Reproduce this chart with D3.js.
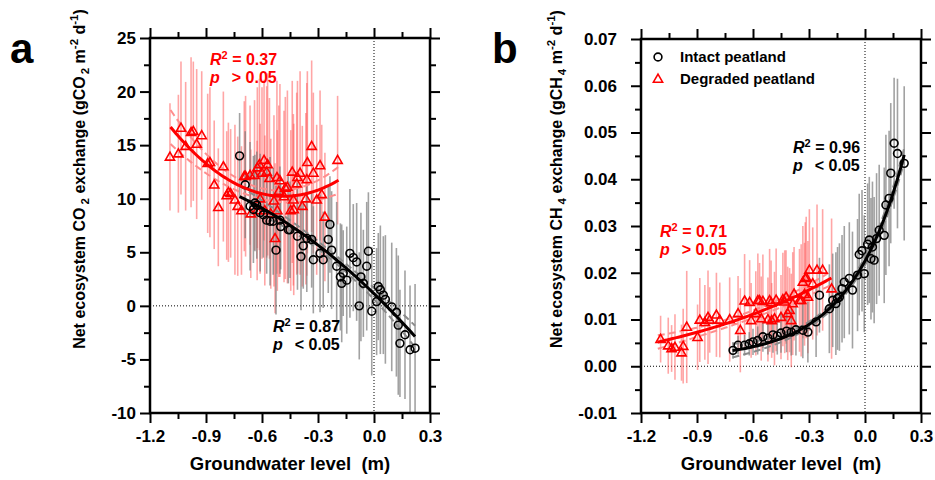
<!DOCTYPE html>
<html>
<head>
<meta charset="utf-8">
<script src="https://cdn.jsdelivr.net/npm/d3@7"></script>
<style>
  body { margin: 0; background: #fff; }
  text { font-family: Arial, "Liberation Sans", sans-serif; font-weight: bold; fill: #000; }
</style>
</head>
<body>
<svg id="chart" width="935" height="480"></svg>
<script>
// ---- data ----
// panel a: net ecosystem CO2 exchange vs groundwater level
const aIntactGWL = [-0.72,-0.69,-0.664,-0.646,-0.638,-0.628,-0.61,-0.593,-0.575,-0.557,-0.54,-0.525,-0.504,-0.5,-0.459,-0.45,-0.41,-0.391,-0.379,-0.36,-0.334,-0.325,-0.289,-0.272,-0.245,-0.236,-0.227,-0.2,-0.18,-0.173,-0.165,-0.146,-0.129,-0.111,-0.093,-0.079,-0.07,-0.057,-0.039,-0.03,-0.012,0.014,0.023,0.034,0.05,0.061,0.095,0.12,0.13,0.139,0.166,0.193,0.22];
const aIntactNEE = [14.0,11.3,9.3,9.0,9.6,9.4,8.7,8.5,8.0,7.9,7.9,5.2,8.0,7.4,7.1,7.1,6.5,4.6,5.6,6.3,6.2,4.3,4.9,4.3,6.2,7.6,5.2,3.7,2.7,2.1,3.05,2.4,4.9,4.5,4.1,0.0,2.7,2.1,3.7,5.1,-0.5,0.4,1.8,1.5,1.0,0.6,-0.1,-0.6,-1.8,-3.5,-2.7,-4.1,-3.95];
const aIntactSD = [4,5,6,5,4.5,5,5.5,4,5,6,5,6,5,4,5,4.5,5,5,4,5,4.5,5,5.5,4.5,5,4.5,5.5,6,5,5.5,4,5,6,5,5.5,5,6,5,6,5.5,6,5,5,6,5.5,6,6,6,6.5,5,6,6,6];

const aDegradedGWL = [-1.093,-1.048,-1.034,-1.009,-0.98,-0.968,-0.95,-0.923,-0.891,-0.879,-0.856,-0.834,-0.807,-0.789,-0.78,-0.768,-0.745,-0.73,-0.71,-0.695,-0.688,-0.664,-0.66,-0.64,-0.626,-0.625,-0.614,-0.61,-0.6,-0.589,-0.585,-0.575,-0.57,-0.56,-0.553,-0.536,-0.53,-0.52,-0.518,-0.51,-0.504,-0.482,-0.475,-0.464,-0.446,-0.438,-0.432,-0.43,-0.414,-0.41,-0.396,-0.384,-0.365,-0.36,-0.357,-0.334,-0.325,-0.307,-0.289,-0.28,-0.263,-0.195];
const aDegradedNEE = [13.9,14.2,16.6,14.9,16.2,16.3,15.1,15.9,13.3,13.4,11.3,9.2,13.0,10.3,10.6,10.5,9.9,9.3,8.9,12.1,12.1,12.2,8.6,12.2,8.9,12.9,13.2,10.0,12.4,13.6,8.9,12.5,13.2,11.9,8.6,9.8,6.3,12.0,8.9,10.7,11.7,10.2,11.0,11.1,8.9,12.5,9.9,9.0,11.4,12.0,12.4,9.3,10.0,11.8,13.4,14.9,12.4,9.9,13.1,10.4,8.3,13.6];
const aDegradedSD = [5,5.5,6.2,6,7,6.5,7,6,6.5,7,6,5.5,7,6,6.5,6,7,6.5,6,7,7.5,6.5,6,7,6.5,7.5,8,7,8,7.5,7,8,8.5,7.5,7,8,7,9,7.5,8,9,8,8.5,9,7.5,8.5,8,8,8.5,9,9.5,7.5,8,9,8.5,8,7.5,7,7,6.5,6,6];

// panel b: net ecosystem CH4 exchange vs groundwater level
const bIntactGWL = [-0.707,-0.68,-0.645,-0.62,-0.6,-0.575,-0.547,-0.52,-0.493,-0.47,-0.45,-0.42,-0.395,-0.37,-0.333,-0.306,-0.262,-0.244,-0.191,-0.173,-0.156,-0.147,-0.137,-0.123,-0.111,-0.084,-0.067,-0.04,-0.031,-0.016,-0.004,0.014,0.023,0.032,0.04,0.049,0.062,0.076,0.103,0.112,0.129,0.138,0.156,0.174,0.21];
const bIntactCH4 = [0.0034,0.0045,0.0045,0.0048,0.0052,0.0055,0.0063,0.006,0.0067,0.0065,0.0071,0.0075,0.0073,0.0078,0.0077,0.0073,0.0095,0.0152,0.0123,0.0141,0.0134,0.0145,0.0148,0.0166,0.018,0.0188,0.0163,0.0195,0.0239,0.0247,0.0198,0.0261,0.027,0.023,0.0255,0.0227,0.0273,0.0291,0.028,0.0345,0.0359,0.0413,0.0477,0.0455,0.0434];
const bIntactSD = [0.0018,0.002,0.0022,0.0025,0.0028,0.003,0.0032,0.0035,0.0038,0.004,0.0042,0.0045,0.005,0.0055,0.006,0.0065,0.0075,0.008,0.0095,0.01,0.011,0.011,0.0115,0.0115,0.012,0.012,0.0125,0.012,0.013,0.013,0.0125,0.013,0.0135,0.013,0.014,0.0135,0.014,0.014,0.0145,0.015,0.0145,0.015,0.014,0.016,0.0165];

const bDegradedGWL = [-1.095,-1.054,-1.036,-1.018,-0.983,-0.974,-0.955,-0.897,-0.885,-0.858,-0.841,-0.832,-0.796,-0.778,-0.725,-0.68,-0.668,-0.645,-0.618,-0.61,-0.585,-0.574,-0.565,-0.556,-0.547,-0.52,-0.511,-0.503,-0.5,-0.485,-0.476,-0.45,-0.44,-0.43,-0.423,-0.414,-0.404,-0.395,-0.387,-0.38,-0.351,-0.342,-0.333,-0.324,-0.32,-0.315,-0.306,-0.298,-0.28,-0.257,-0.227,-0.179];
const bDegradedCH4 = [0.0058,0.0044,0.0038,0.0041,0.0029,0.0043,0.0084,0.0062,0.0099,0.0094,0.0105,0.0099,0.011,0.0099,0.01,0.0113,0.0077,0.014,0.0137,0.0098,0.0113,0.0141,0.0141,0.0102,0.0139,0.01,0.0141,0.0136,0.0098,0.0102,0.0142,0.0105,0.0143,0.0138,0.0148,0.0113,0.012,0.0098,0.0134,0.0155,0.0141,0.0141,0.018,0.0154,0.0188,0.019,0.0148,0.0206,0.0177,0.0206,0.0206,0.0166];
const bDegradedSD = [0.005,0.006,0.005,0.007,0.006,0.008,0.012,0.007,0.009,0.008,0.01,0.007,0.009,0.008,0.009,0.008,0.009,0.01,0.009,0.008,0.009,0.01,0.008,0.009,0.01,0.009,0.011,0.009,0.008,0.01,0.011,0.009,0.01,0.011,0.01,0.01,0.009,0.01,0.011,0.01,0.011,0.012,0.012,0.011,0.012,0.013,0.012,0.013,0.012,0.014,0.013,0.015];

// fitted curves: quadratic c0 + c1*x + c2*x^2 (panel a), c0 + c1*exp(c2*x) (panel b)
const aIntactFit = [1.14, -16.88, -5.97];
const aDegradedFit = [14.31, 16.93, 17.54];
const bIntactFit = [0.0016, 0.02092, 3.5];
const bDegradedFit = [-0.00375, 0.0271, 1.0];
// fit x ranges
const aIntactRange = [-0.72, 0.22];
const aDegradedRange = [-1.09, -0.19];
const bIntactRange = [-0.71, 0.21];
const bDegradedRange = [-1.11, -0.175];
// confidence band half widths: h0 + h1*(x - xm)^2  -> [h0, h1, xm]
const aIntactBand = [0.35, 3.0, -0.25];
const aDegradedBand = [0.5, 4.5, -0.6];
const bIntactBand = [0.0006, 0.004, -0.25];
const bDegradedBand = [0.0008, 0.003, -0.65];

// axis ticks
const xTicks = [-1.2, -0.9, -0.6, -0.3, 0.0, 0.3];
const xMinorTicks = [-1.05, -0.75, -0.45, -0.15, 0.15];
const aYTicks = [-10, -5, 0, 5, 10, 15, 20, 25];
const aYMinorTicks = [-7.5, -2.5, 2.5, 7.5, 12.5, 17.5, 22.5];
const bYTicks = [-0.01, 0, 0.01, 0.02, 0.03, 0.04, 0.05, 0.06, 0.07];
const bYMinorTicks = [-0.005, 0.005, 0.015, 0.025, 0.035, 0.045, 0.055, 0.065];

const RED = "#ff0000";
const svg = d3.select("#chart");
svg.append("rect").attr("width", 935).attr("height", 480).attr("fill", "#fff");

const quad = c => x => c[0] + c[1] * x + c[2] * x * x;
const expo = c => x => c[0] + c[1] * Math.exp(c[2] * x);
const triPath = "M0,-4.8L4.6,3.2L-4.6,3.2Z";

function drawPanel(p) {
    const x = d3.scaleLinear().domain([-1.2, 0.3]).range([p.left, p.right]);
    const y = d3.scaleLinear().domain(p.yDomain).range([p.bottom, p.top]);
    const g = svg.append("g");

    svg.append("clipPath").attr("id", "clip-" + p.id)
        .append("rect")
        .attr("x", p.left).attr("y", p.top)
        .attr("width", p.right - p.left).attr("height", p.bottom - p.top);
    const plot = g.append("g").attr("clip-path", `url(#clip-${p.id})`);

    // dotted zero lines
    plot.append("line")
        .attr("x1", p.left).attr("x2", p.right).attr("y1", y(0)).attr("y2", y(0))
        .attr("stroke", "#000").attr("stroke-width", 1).attr("stroke-dasharray", "1,2");
    plot.append("line")
        .attr("x1", x(0)).attr("x2", x(0)).attr("y1", p.top).attr("y2", p.bottom)
        .attr("stroke", "#000").attr("stroke-width", 1).attr("stroke-dasharray", "1,2");

    // error bars
    p.series.forEach(s => {
        plot.append("g").selectAll("line")
            .data(d3.range(s.gwl.length))
            .join("line")
            .attr("x1", i => x(s.gwl[i])).attr("x2", i => x(s.gwl[i]))
            .attr("y1", i => y(s.val[i] - s.sd[i]))
            .attr("y2", i => y(s.val[i] + s.sd[i]))
            .attr("stroke", s.barColor)
            .attr("stroke-width", 1.6)
            .attr("stroke-opacity", s.barOpacity);
    });

    // confidence bands (dashed)
    p.series.forEach(s => {
        const xs = d3.range(s.range[0], s.range[1] + 0.001, 0.01);
        const hw = v => s.band[0] + s.band[1] * (v - s.band[2]) * (v - s.band[2]);
        [1, -1].forEach(sign => {
            plot.append("path")
                .attr("d", d3.line().x(v => x(v)).y(v => y(s.fit(v) + sign * hw(v)))(xs))
                .attr("fill", "none")
                .attr("stroke", s.bandColor)
                .attr("stroke-width", 2)
                .attr("stroke-dasharray", "7,4");
        });
    });

    // points
    p.series.forEach(s => {
        const pts = plot.append("g").selectAll("path")
            .data(d3.range(s.gwl.length))
            .join("path")
            .attr("transform", i => `translate(${x(s.gwl[i])},${y(s.val[i])})`)
            .attr("fill", "none")
            .attr("stroke", s.color)
            .attr("stroke-width", 1.6);
        if (s.shape === "circle") pts.attr("d", d3.symbol(d3.symbolCircle, 48)());
        else pts.attr("d", triPath);
    });

    // fitted lines
    p.series.forEach(s => {
        const xs = d3.range(s.range[0], s.range[1] + 0.001, 0.01);
        plot.append("path")
            .attr("d", d3.line().x(v => x(v)).y(v => y(s.fit(v)))(xs))
            .attr("fill", "none")
            .attr("stroke", s.color)
            .attr("stroke-width", 3);
    });

    // axes
    const styleAxis = sel => {
        sel.select(".domain").remove();
        sel.attr("font-size", null).attr("font-family", null);
        sel.selectAll(".tick line").attr("stroke", "#000").attr("stroke-width", 2);
        sel.selectAll(".tick text").attr("font-size", 17).attr("fill", "#000");
    };
    g.append("g").attr("transform", `translate(0,${p.bottom})`)
        .call(d3.axisBottom(x).tickValues(xTicks).tickSize(10).tickPadding(7).tickFormat(d => d.toFixed(1)))
        .call(styleAxis);
    g.append("g").attr("transform", `translate(0,${p.bottom})`)
        .call(d3.axisBottom(x).tickValues(xMinorTicks).tickSize(6).tickFormat(""))
        .call(styleAxis);
    g.append("g").attr("transform", `translate(0,${p.top})`)
        .call(d3.axisTop(x).tickValues(xTicks).tickSize(10).tickFormat(""))
        .call(styleAxis);
    g.append("g").attr("transform", `translate(0,${p.top})`)
        .call(d3.axisTop(x).tickValues(xMinorTicks).tickSize(6).tickFormat(""))
        .call(styleAxis);
    g.append("g").attr("transform", `translate(${p.left},0)`)
        .call(d3.axisLeft(y).tickValues(p.yTicks).tickSize(10).tickPadding(p.yPad).tickFormat(p.yFormat))
        .call(styleAxis);
    g.append("g").attr("transform", `translate(${p.left},0)`)
        .call(d3.axisLeft(y).tickValues(p.yMinor).tickSize(6).tickFormat(""))
        .call(styleAxis);
    g.append("g").attr("transform", `translate(${p.right},0)`)
        .call(d3.axisRight(y).tickValues(p.yTicks).tickSize(10).tickFormat(""))
        .call(styleAxis);
    g.append("g").attr("transform", `translate(${p.right},0)`)
        .call(d3.axisRight(y).tickValues(p.yMinor).tickSize(6).tickFormat(""))
        .call(styleAxis);

    // frame
    g.append("rect")
        .attr("x", p.left).attr("y", p.top)
        .attr("width", p.right - p.left).attr("height", p.bottom - p.top)
        .attr("fill", "none").attr("stroke", "#000").attr("stroke-width", 2.5);

    // x title
    g.append("text")
        .attr("x", (p.left + p.right) / 2).attr("y", 470)
        .attr("text-anchor", "middle").attr("font-size", 18.5)
        .attr("xml:space", "preserve")
        .text("Groundwater level  (m)");

    // y title with sub/superscripts
    const t = g.append("text")
        .attr("transform", `translate(${p.titleX},${p.titleY}) rotate(-90)`)
        .attr("text-anchor", "middle").attr("font-size", 16);
    t.append("tspan").text("Net ecosystem " + p.gas[0]);
    t.append("tspan").attr("dx", 3).attr("dy", 4).attr("font-size", 11.5).text(p.gas[1]);
    t.append("tspan").attr("dy", -4).text(" exchange (g" + p.gas[0]);
    t.append("tspan").attr("dx", 2).attr("dy", 4).attr("font-size", 11.5).text(p.gas[1]);
    t.append("tspan").attr("dy", -4).text(" m");
    t.append("tspan").attr("dy", -7).attr("font-size", 11.5).text("-2");
    t.append("tspan").attr("dy", 7).text(" d");
    t.append("tspan").attr("dy", -7).attr("font-size", 11.5).text("-1");
    t.append("tspan").attr("dy", 7).text(")");

    // panel letter
    g.append("text").attr("x", p.letterX).attr("y", 63)
        .attr("font-size", 42).text(p.letter);

    // statistics
    p.stats.forEach(st => {
        const s1 = g.append("text").attr("x", st.x).attr("y", st.y)
            .attr("font-size", 16).style("fill", st.color);
        s1.append("tspan").attr("font-style", "italic").text("R");
        s1.append("tspan").attr("dy", -6).attr("font-size", 11).text("2");
        s1.append("tspan").attr("dy", 6).text(" = " + st.r2);
        const s2 = g.append("text").attr("x", st.x).attr("y", st.y + 18)
            .attr("font-size", 16).style("fill", st.color);
        s2.append("tspan").attr("font-style", "italic").text("p");
        s2.append("tspan").attr("dx", 12).text(st.p);
    });
}

drawPanel({
    id: "a", letter: "a", letterX: 10,
    left: 150, right: 430, top: 38, bottom: 413,
    yDomain: [-10, 25], yTicks: aYTicks, yMinor: aYMinorTicks, yPad: 4,
    yFormat: d => String(d),
    titleX: 85, titleY: 179, gas: ["CO", "2"],
    series: [
        { gwl: aDegradedGWL, val: aDegradedNEE, sd: aDegradedSD, color: RED, shape: "tri",
          barColor: "#ff5c5c", barOpacity: 0.55, bandColor: "#ff8c8c",
          fit: quad(aDegradedFit), range: aDegradedRange, band: aDegradedBand },
        { gwl: aIntactGWL, val: aIntactNEE, sd: aIntactSD, color: "#000", shape: "circle",
          barColor: "#7a7a7a", barOpacity: 0.7, bandColor: "#8a8a8a",
          fit: quad(aIntactFit), range: aIntactRange, band: aIntactBand }
    ],
    stats: [
        { x: 210, y: 65, r2: "0.37", p: "> 0.05", color: RED },
        { x: 273, y: 332, r2: "0.87", p: "< 0.05", color: "#000" }
    ]
});

drawPanel({
    id: "b", letter: "b", letterX: 492,
    left: 641, right: 921, top: 39, bottom: 413,
    yDomain: [-0.01, 0.07], yTicks: bYTicks, yMinor: bYMinorTicks, yPad: 14,
    yFormat: d => d.toFixed(2),
    titleX: 562, titleY: 179, gas: ["CH", "4"],
    series: [
        { gwl: bDegradedGWL, val: bDegradedCH4, sd: bDegradedSD, color: RED, shape: "tri",
          barColor: "#ff5c5c", barOpacity: 0.55, bandColor: "#ff8c8c",
          fit: expo(bDegradedFit), range: bDegradedRange, band: bDegradedBand },
        { gwl: bIntactGWL, val: bIntactCH4, sd: bIntactSD, color: "#000", shape: "circle",
          barColor: "#7a7a7a", barOpacity: 0.7, bandColor: "#8a8a8a",
          fit: expo(bIntactFit), range: bIntactRange, band: bIntactBand }
    ],
    stats: [
        { x: 793, y: 153, r2: "0.96", p: "< 0.05", color: "#000" },
        { x: 660, y: 237, r2: "0.71", p: "> 0.05", color: RED }
    ]
});

// legend (panel b)
const legend = svg.append("g");
legend.append("path").attr("d", d3.symbol(d3.symbolCircle, 48)())
    .attr("transform", "translate(658,57)")
    .attr("fill", "none").attr("stroke", "#000").attr("stroke-width", 1.6);
legend.append("text").attr("x", 680).attr("y", 62).attr("font-size", 15).text("Intact peatland");
legend.append("path").attr("d", triPath)
    .attr("transform", "translate(658,79)")
    .attr("fill", "none").attr("stroke", RED).attr("stroke-width", 1.6);
legend.append("text").attr("x", 680).attr("y", 84).attr("font-size", 15).text("Degraded peatland");
</script>
</body>
</html>
